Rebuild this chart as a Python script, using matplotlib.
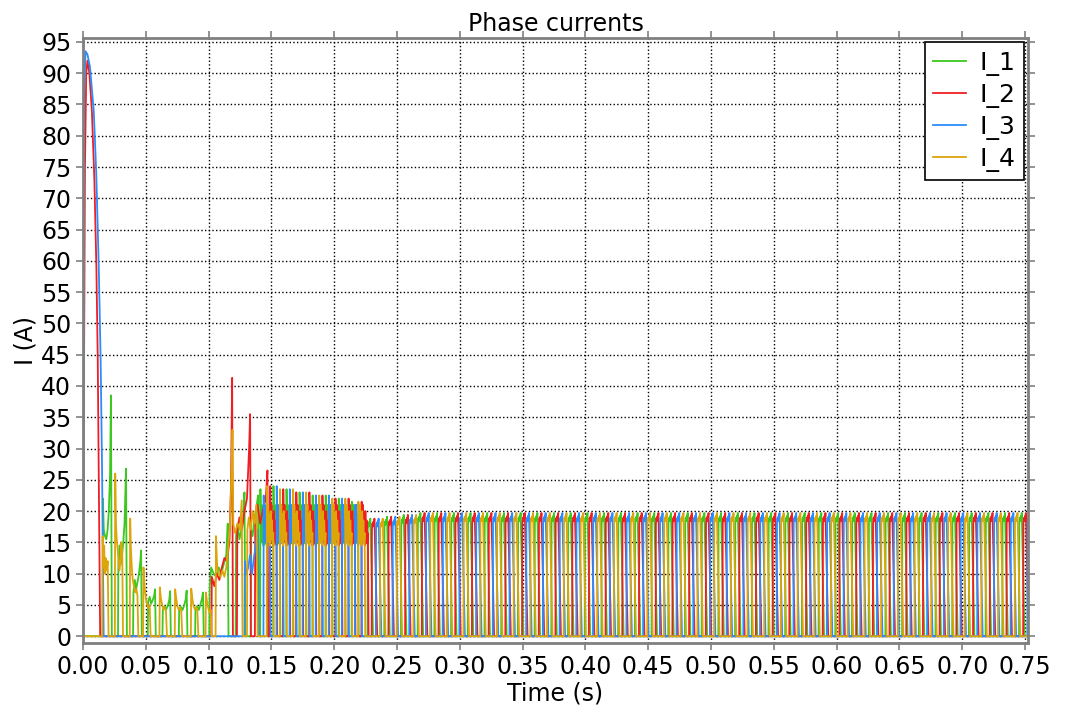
import numpy as np
import matplotlib.pyplot as plt

# ---- start-up part (0 - 0.14 s), vertices: time (s), current (A) ----
t1_start = [0, 0.0155, 0.0158, 0.0165, 0.0175, 0.0185, 0.0195, 0.0205, 0.0215, 0.0222, 0.0229,
            0.0278, 0.0281, 0.0290, 0.0300, 0.0310, 0.0320, 0.0330, 0.0342, 0.0349,
            0.0398, 0.0401, 0.0412, 0.0422, 0.0432, 0.0445, 0.0456, 0.0462, 0.0468,
            0.0515, 0.0518, 0.0530, 0.0542, 0.0555, 0.0566, 0.0573, 0.0579,
            0.0632, 0.0635, 0.0648, 0.0662, 0.0676, 0.0686, 0.0693, 0.0699,
            0.0762, 0.0765, 0.0778, 0.0792, 0.0806, 0.0817, 0.0825, 0.0831,
            0.0892, 0.0895, 0.0908, 0.0922, 0.0936, 0.0947, 0.0955, 0.0961,
            0.1005, 0.1008, 0.1020, 0.1040, 0.1060, 0.1080, 0.1100, 0.1120, 0.1140, 0.1152, 0.1158,
            0.1215, 0.1218, 0.1230, 0.1245, 0.1260, 0.1275, 0.1285, 0.1292,
            0.1335, 0.1338, 0.1350, 0.1365, 0.1380, 0.1393, 0.1400]
i1_start = [0, 0, 22, 17, 16, 15.5, 17, 20, 26, 38.5, 0,
            0, 11.5, 14.5, 11.5, 13, 15, 18, 26.8, 0,
            0, 7, 9, 7.5, 8.5, 10, 12, 13.7, 0,
            0, 5.5, 6.3, 5.2, 5.8, 6.5, 7.5, 0,
            0, 4.2, 4.8, 4.3, 5.0, 5.8, 7.2, 0,
            0, 4.0, 4.7, 4.2, 5.0, 5.9, 7.3, 0,
            0, 4.3, 4.8, 4.2, 5.2, 6.0, 7.0, 0,
            0, 8, 11, 10, 9.5, 11, 10, 11.5, 13, 18, 0,
            0, 16, 18, 15.5, 17, 19, 23, 0,
            0, 17, 16, 19, 20.5, 22.5, 0]

t2_start = [0, 0.0006, 0.0015, 0.0025, 0.0035, 0.0050, 0.0070, 0.0090, 0.0106, 0.0117, 0.0124, 0.0131, 0.0136,
            0.1022, 0.1025, 0.1045, 0.1065, 0.1085, 0.1105, 0.1125, 0.1145, 0.1165, 0.1178, 0.1187, 0.1193,
            0.1225, 0.1228, 0.1245, 0.1265, 0.1285, 0.1305, 0.1322, 0.1330, 0.1336,
            0.1368, 0.1371, 0.1390, 0.1410, 0.1430, 0.1455, 0.1468, 0.1474]
i2_start = [0, 35, 75, 90, 92, 90, 84, 73, 59, 44, 27, 10, 0,
            0, 9.5, 8, 10, 9, 11, 12.5, 12, 15, 24, 41.3, 0,
            0, 17, 19, 17, 20, 22, 30, 35.5, 0,
            0, 19, 21, 18, 20, 22, 26.5, 0]

t3_start = [0, 0.0004, 0.0010, 0.0020, 0.0035, 0.0055, 0.0085, 0.0105, 0.0125, 0.0140, 0.0151, 0.0158, 0.0164,
            0.1285, 0.1288, 0.1300, 0.1315, 0.1330, 0.1345, 0.1360, 0.1375, 0.1390, 0.1398]
i3_start = [0, 55, 88, 93.5, 93, 91, 84, 74, 59, 44, 27, 12, 0,
            0, 12, 10, 11, 13, 10, 12.5, 14.5, 17, 0]

t4_start = [0, 0.0153, 0.0156, 0.0163, 0.0168, 0.0174, 0.0180, 0.0188, 0.0196, 0.0203,
            0.0253, 0.0256, 0.0262, 0.0268, 0.0275, 0.0282, 0.0290, 0.0297, 0.0305, 0.0312, 0.0318,
            0.0372, 0.0375, 0.0381, 0.0388, 0.0396, 0.0405, 0.0415, 0.0425, 0.0433, 0.0440,
            0.0478, 0.0481, 0.0490, 0.0500, 0.0510, 0.0520, 0.0530, 0.0538,
            0.0608, 0.0611, 0.0620, 0.0630, 0.0640, 0.0650, 0.0660, 0.0668,
            0.0730, 0.0733, 0.0742, 0.0752, 0.0762, 0.0772, 0.0782, 0.0790,
            0.0858, 0.0861, 0.0870, 0.0880, 0.0890, 0.0900, 0.0910, 0.0918,
            0.0975, 0.0978, 0.0987, 0.0997, 0.1007, 0.1017, 0.1025,
            0.1055, 0.1058, 0.1068, 0.1080, 0.1095, 0.1110, 0.1125, 0.1140, 0.1155, 0.1170, 0.1182,
            0.1190, 0.1196, 0.1210, 0.1230, 0.1250, 0.1263, 0.1270,
            0.1305, 0.1308, 0.1320, 0.1335, 0.1350, 0.1365, 0.1380, 0.1390]
i4_start = [0, 0, 16, 11, 14.5, 10, 12.5, 10.5, 12, 0,
            0, 26, 18, 15.5, 14, 12, 10.5, 12, 15, 13.5, 0,
            0, 18.8, 14, 11, 9, 8, 7, 7.5, 6.5, 0,
            0, 11, 8, 6, 5, 4.5, 5, 0,
            0, 7.8, 6, 5, 4.3, 4.6, 4.0, 0,
            0, 7.5, 6, 4.8, 4.2, 4.6, 4.0, 0,
            0, 7.6, 6, 4.8, 4.3, 4.6, 4.0, 0,
            0, 7.0, 5.5, 4.5, 3.8, 4.2, 0,
            0, 16, 11, 10, 9.5, 10.5, 9.5, 11, 14, 18, 26,
            33, 18, 16.5, 18, 17, 21.7, 0,
            0, 17, 19, 17, 20, 18, 21, 0]

# ---- chopping band (0.14 - 0.225 s) ----
band_period = 0.0104
band_first = [0.1410, 0.1488, 0.1436, 0.1462]          # I_1 .. I_4
band_peaks = [[23.5, 24.0, 23.5, 23.0, 22.5, 22.5, 22.0, 21.5],
              [24.0, 23.5, 23.0, 23.0, 22.5, 22.0, 22.0, 21.5],
              [22.5, 24.0, 23.5, 23.0, 22.5, 22.5, 22.0, 21.0],
              [24.0, 23.5, 23.5, 23.0, 22.5, 22.0, 22.0, 21.5]]
band_dt = [0, 0.0002, 0.0007, 0.0012, 0.0017, 0.0022, 0.0027, 0.0032, 0.0037, 0.0042, 0.0047, 0.0052, 0.0057]
band_tail = [16.5, 21.0, 15.0, 19.5, 14.5, 20.0, 15.5, 18.5, 14.8, 16.5, 0]

# ---- steady state (0.225 s - end) ----
ss_period = 0.0133
ss_first = [0.2265, 0.2298, 0.2331, 0.2364]
ss_count = 40
ss_peaks_first = [18.8, 19.1, 19.4]
ss_peak = 19.7
ss_dt = [0, 0.0002, 0.0006, 0.0010, 0.0014, 0.0018, 0.0022, 0.0044]
ss_i = [0, 18.0, 18.9, 18.4, 19.2, 18.8, 19.7, 0]

names = ['I_1', 'I_2', 'I_3', 'I_4']
colors = ['#3cc81e', '#f01e23', '#2a8cff', '#dca50a']
starts = [(t1_start, i1_start), (t2_start, i2_start), (t3_start, i3_start), (t4_start, i4_start)]


def build(k):
    t = list(starts[k][0])
    i = list(starts[k][1])
    for n, pk in enumerate(band_peaks[k]):
        t0 = band_first[k] + n * band_period
        t += [t0 + d for d in band_dt]
        i += [0, pk] + band_tail
    for n in range(ss_count):
        t0 = ss_first[k] + n * ss_period
        pk = ss_peaks_first[n] if n < len(ss_peaks_first) else ss_peak
        t += [t0 + d for d in ss_dt]
        i += [v * pk / ss_peak for v in ss_i]
    return np.array(t), np.array(i)


fig = plt.figure(figsize=(10.65, 7.13), dpi=100)
ax = fig.add_axes([0.078, 0.098, 0.8873, 0.8485])

for k in range(4):
    t, i = build(k)
    ax.plot(t, i, color=colors[k], lw=1.3, label=names[k])

ax.set_xlim(0, 0.7524)
ax.set_ylim(-1.1, 95.6)
ax.set_xticks(np.arange(0, 0.751, 0.05))
ax.set_xticklabels(['%.2f' % v for v in np.arange(0, 0.751, 0.05)])
ax.set_yticks(np.arange(0, 96, 5))
ax.grid(True, color='black', linestyle=':', linewidth=1.0)
ax.tick_params(labelsize=17, length=5, color='#808080', width=1.2)
ax.tick_params(top=True, right=True, which='both')
for s in ax.spines.values():
    s.set_color('#808080')
    s.set_linewidth(2)

ax.set_title('Phase currents', fontsize=17, pad=5)
ax.set_xlabel('Time (s)', fontsize=17, labelpad=2)
ax.set_ylabel('I (A)', fontsize=17, labelpad=2)

leg = ax.legend(loc='upper right', fontsize=18, frameon=True, fancybox=False,
                framealpha=1, edgecolor='black', borderaxespad=0.15,
                handlelength=1.3, labelspacing=0.28, borderpad=0.35, handletextpad=0.55)
leg.get_frame().set_linewidth(1.2)

fig.savefig('out.png', dpi=100)
